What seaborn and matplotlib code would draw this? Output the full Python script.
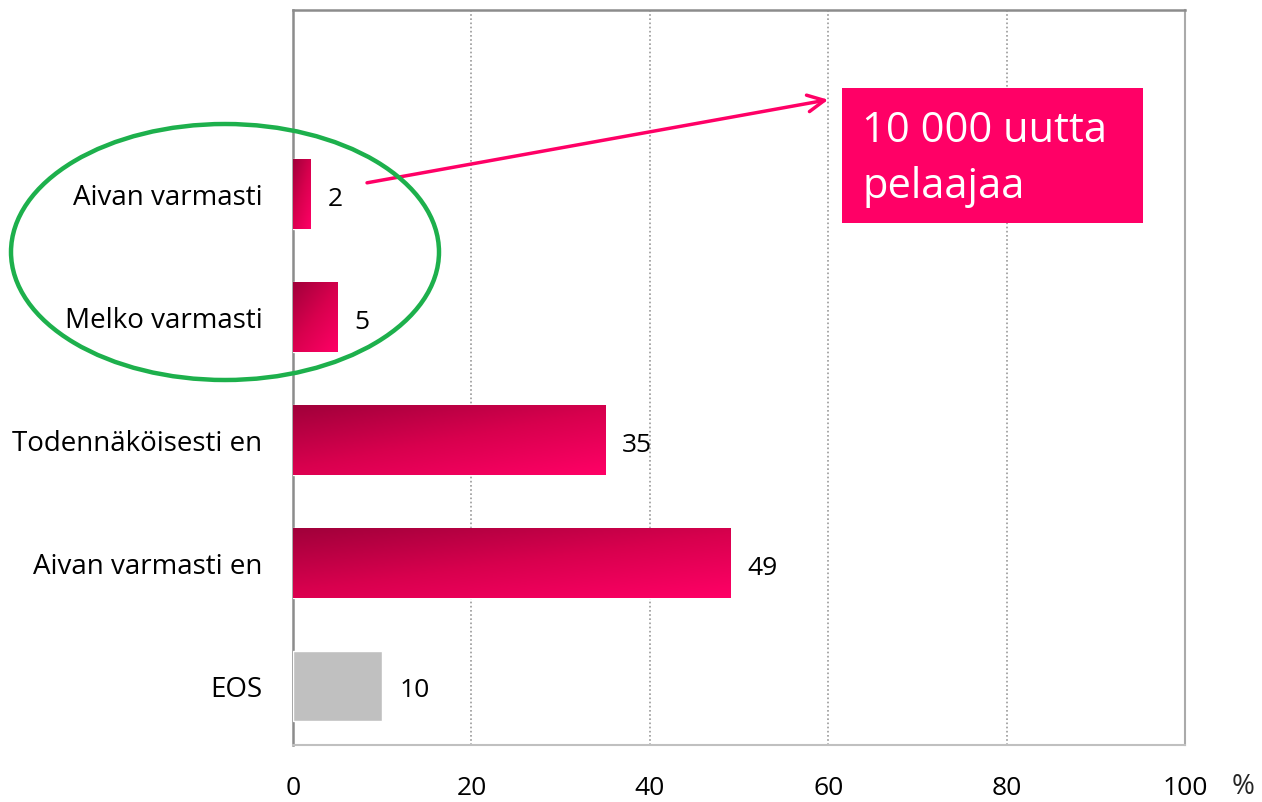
import numpy as np
import pandas as pd
import matplotlib
matplotlib.use('Agg')
import matplotlib.pyplot as plt
import seaborn as sns
from matplotlib.colors import LinearSegmentedColormap
from matplotlib.patches import Ellipse, Rectangle

# --- Data ---
categories = ['Aivan varmasti', 'Melko varmasti', 'Todennäköisesti en',
              'Aivan varmasti en', 'EOS']
values = [2, 5, 35, 49, 10]
x_ticks = [0, 20, 40, 60, 80, 100]
callout_text = '10 000 uutta\npelaajaa'

df = pd.DataFrame({'kategoria': categories, 'arvo': values})

# --- Setup ---
sns.set_theme(style='white')
plt.rcParams['font.family'] = ['Open Sans', 'DejaVu Sans']

pink = '#FF0066'
dark = '#A0003A'
grey_bar = '#C0C0C0'
bar_colors = [pink, pink, pink, pink, grey_bar]

fig = plt.figure(figsize=(12.62, 8.02), dpi=100)
ax = fig.add_axes([293 / 1262, 1 - 745 / 802, 892 / 1262, 735 / 802])

sns.barplot(data=df, y='kategoria', x='arvo', hue='kategoria',
            palette=bar_colors, legend=False, width=0.57, ax=ax,
            orient='h', zorder=3)

ax.set_xlim(0, 100)
ax.set_ylim(4.48, -1.5)
ax.set_xticks(x_ticks)
ax.set_xticklabels([str(t) for t in x_ticks], fontsize=19)
ax.tick_params(axis='x', pad=22, length=0, colors='black')
ax.tick_params(axis='y', pad=22, length=0, labelsize=20, colors='black')
ax.set_xlabel('')
ax.set_ylabel('')

# dotted vertical gridlines
for t in x_ticks[1:-1]:
    ax.axvline(t, color='#999999', linestyle=(0, (1, 1.5)), linewidth=1.2, zorder=1)

for side in ['top', 'left', 'right', 'bottom']:
    ax.spines[side].set_visible(True)
ax.spines['top'].set_color('#8c8c8c')
ax.spines['top'].set_linewidth(1.8)
ax.spines['left'].set_color('#8c8c8c')
ax.spines['left'].set_linewidth(1.8)
ax.spines['right'].set_color('#aaaaaa')
ax.spines['right'].set_linewidth(1.5)
ax.spines['right'].set_linestyle((0, (1, 1)))
ax.spines['bottom'].set_color('#c0c0c0')
ax.spines['bottom'].set_linewidth(1.5)

# gradient fill on the pink bars
cmap = LinearSegmentedColormap.from_list('grad', [dark, '#D8004E', pink])
u = np.linspace(0, 1, 200)
v = np.linspace(0, 1, 60)
uu, vv = np.meshgrid(u, v)
grad = 0.45 * uu + 0.55 * vv
for patch, val, col in zip(ax.patches, values, bar_colors):
    x0, y0 = patch.get_x(), patch.get_y()
    w, h = patch.get_width(), patch.get_height()
    if col == pink:
        patch.set_facecolor('none')
        img = ax.imshow(grad, cmap=cmap, aspect='auto',
                        extent=[x0, x0 + w, y0 + h, y0], origin='upper',
                        zorder=3)
        img.set_clip_path(patch)
    ax.text(x0 + w + 1.9, y0 + h / 2 + 0.04, str(val), va='center', ha='left',
            fontsize=19, color='black', zorder=4)

ax.set_xlim(0, 100)
ax.set_ylim(4.48, -1.5)

# percent sign next to the 100 tick
fig.text(1243 / 1262, 1 - 787 / 802, '%', fontsize=20, ha='center', va='center')

# callout box
ax.add_patch(Rectangle((61.5, -0.866), 33.8, 1.1, facecolor=pink,
                       edgecolor='none', clip_on=False, zorder=5))
ax.text(63.8, -0.29, callout_text, color='white', fontsize=30,
        va='center', ha='left', linespacing=1.45, zorder=6, clip_on=False)

# arrow from first bar to box
ax.annotate('', xy=(60.0, -0.77), xytext=(8.3, -0.094),
            arrowprops=dict(arrowstyle='->', color=pink, lw=2.5,
                            mutation_scale=30, shrinkA=0, shrinkB=0),
            zorder=6, annotation_clip=False)

# green ellipse around the top two categories
ell = Ellipse((225 / 1262, 1 - 252 / 802), 428 / 1262, 256 / 802,
              transform=fig.transFigure, facecolor='none',
              edgecolor='#1DB04C', linewidth=3.2, zorder=7)
fig.patches.append(ell)

fig.savefig('out.png', dpi=100)
plt.close(fig)
